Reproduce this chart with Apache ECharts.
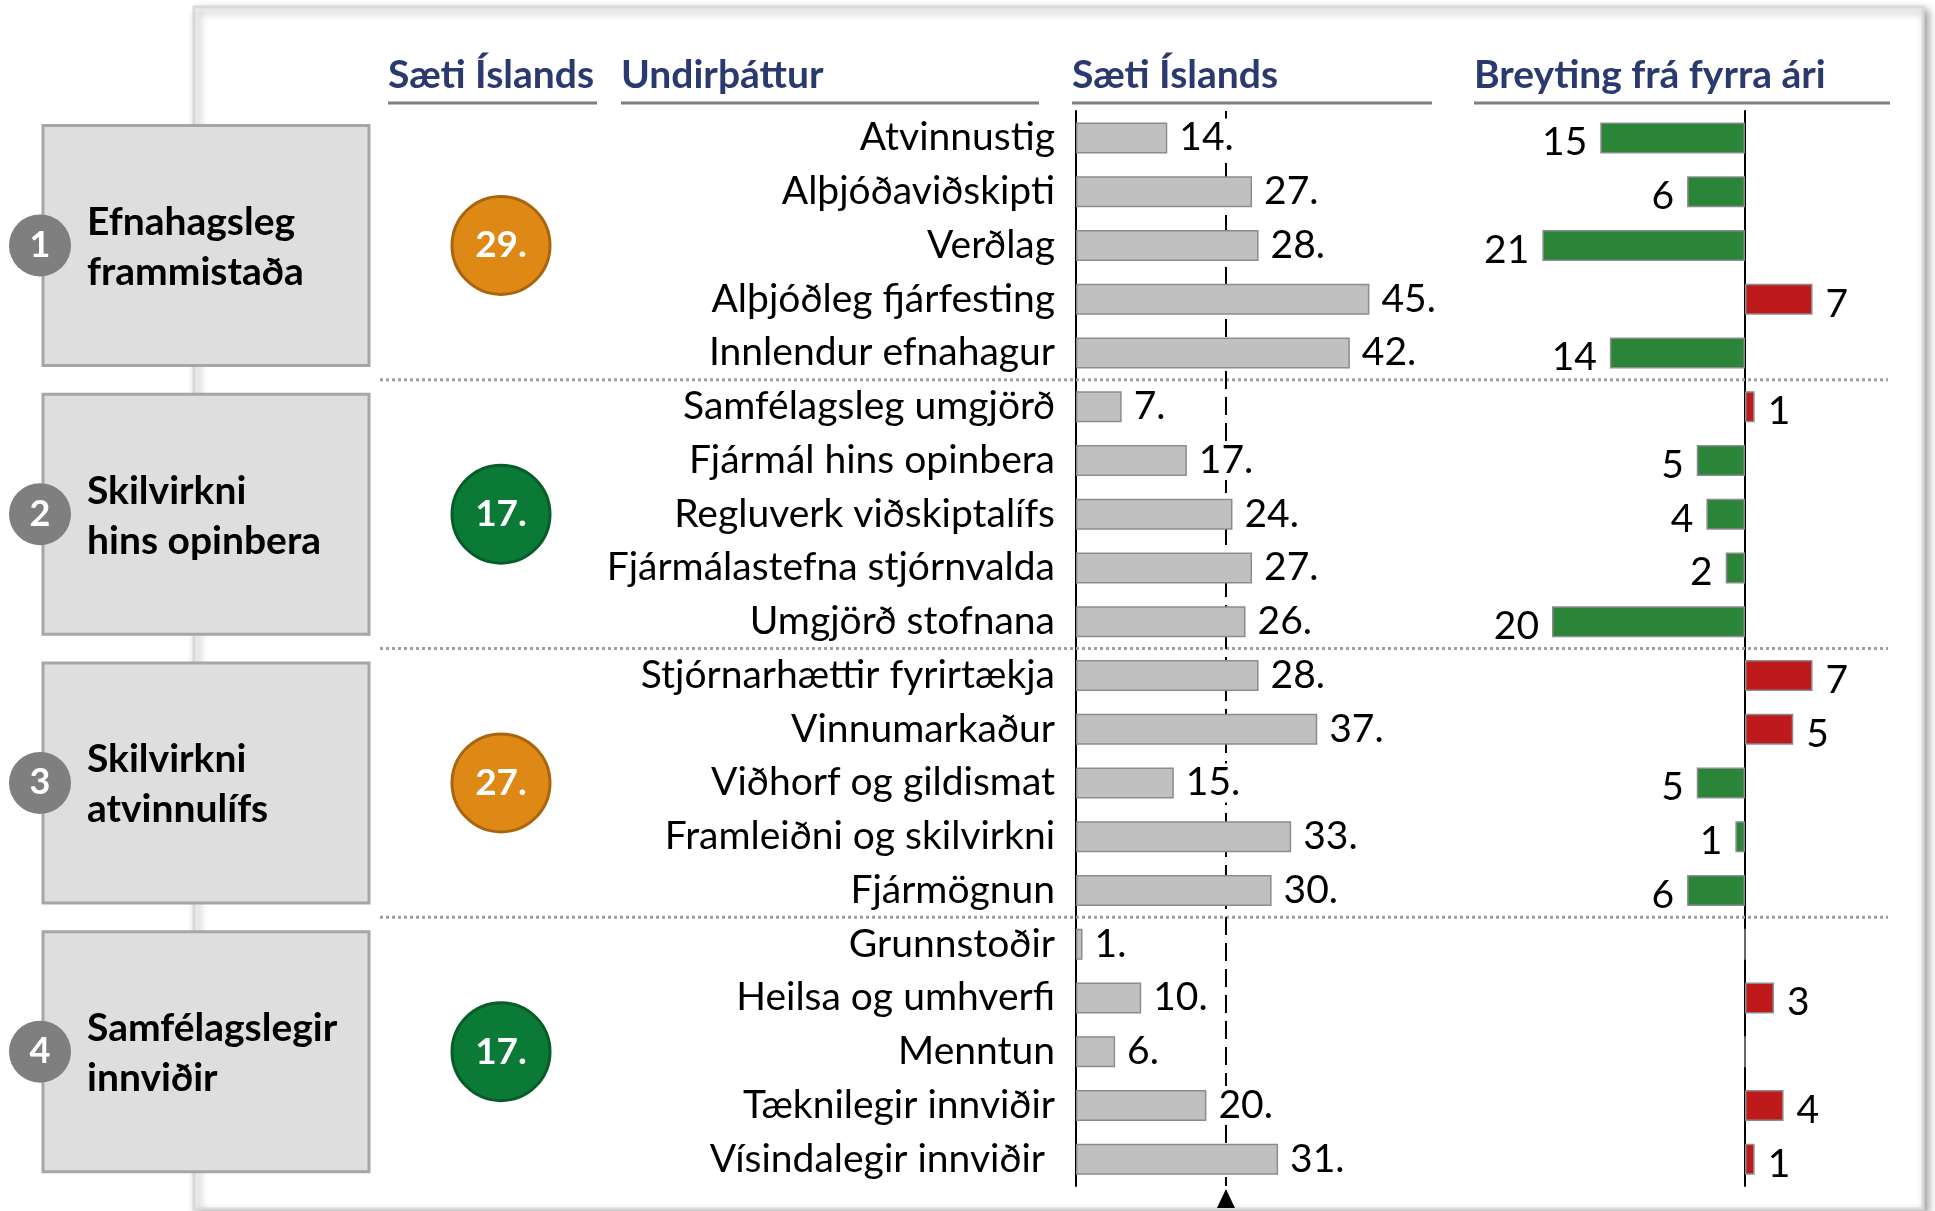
<!DOCTYPE html>
<html>
<head>
<meta charset="utf-8">
<script src="https://cdn.jsdelivr.net/npm/echarts@6.0.0/dist/echarts.min.js"></script>
<style>
  html, body { margin: 0; padding: 0; background: #fff; }
  #main { width: 1935px; height: 1211px; }
</style>
</head>
<body>
<div id="main"></div>
<script>
// undirþættir (röð frá toppi)
const subFactors = [
  'Atvinnustig', 'Alþjóðaviðskipti', 'Verðlag', 'Alþjóðleg fjárfesting', 'Innlendur efnahagur',
  'Samfélagsleg umgjörð', 'Fjármál hins opinbera', 'Regluverk viðskiptalífs', 'Fjármálastefna stjórnvalda', 'Umgjörð stofnana',
  'Stjórnarhættir fyrirtækja', 'Vinnumarkaður', 'Viðhorf og gildismat', 'Framleiðni og skilvirkni', 'Fjármögnun',
  'Grunnstoðir', 'Heilsa og umhverfi', 'Menntun', 'Tæknilegir innviðir', 'Vísindalegir innviðir '
];
// sæti Íslands í hverjum undirþætti
const islandRank = [14, 27, 28, 45, 42, 7, 17, 24, 27, 26, 28, 37, 15, 33, 30, 1, 10, 6, 20, 31];
// breyting frá fyrra ári (neikvætt = bæting, grænt)
const rankChange = [-15, -6, -21, 7, -14, 1, -5, -4, -2, -20, 7, 5, -5, -1, -6, 0, 3, 0, 4, 1];

// meginþættir
const pillars = ['Efnahagsleg\nframmistaða', 'Skilvirkni\nhins opinbera', 'Skilvirkni\natvinnulífs', 'Samfélagslegir\ninnviðir'];
const pillarRank = [29, 17, 27, 17];
const pillarSize = [5, 5, 5, 5];
const medianRank = 23;

const headers = ['Sæti Íslands', 'Undirþáttur', 'Sæti Íslands', 'Breyting frá fyrra ári'];

const FONT = 'Lato, "Open Sans", sans-serif';
const NAVY = '#2B3A6E';
const GREEN = '#2A8538';
const RED = '#BE1A1B';

const chart = echarts.init(document.getElementById('main'));

const option = {
  backgroundColor: '#fff',
  animation: false,
  textStyle: { fontFamily: FONT },
  grid: [
    { left: 1076, width: 326, top: 111, height: 1075, outerBoundsMode: 'none' },
    { left: 1503.75, width: 386, top: 111, height: 1075, outerBoundsMode: 'none' },
    { left: 451, width: 100, top: 111, height: 1075, outerBoundsMode: 'none' }
  ],
  xAxis: [
    { gridIndex: 0, type: 'value', min: 0, max: 50, show: false, splitLine: { show: false } },
    { gridIndex: 1, type: 'value', min: -25, max: 15, show: false, splitLine: { show: false } },
    { gridIndex: 2, type: 'value', min: 0, max: 1, show: false, splitLine: { show: false } }
  ],
  yAxis: [
    {
      gridIndex: 0, type: 'category', data: subFactors, inverse: true,
      axisLine: { lineStyle: { color: '#000', width: 2 } },
      axisTick: { show: false },
      axisLabel: { fontSize: 39, color: '#000', margin: 21, fontFamily: FONT }
    },
    {
      gridIndex: 1, type: 'category', data: subFactors, inverse: true,
      axisLine: { onZero: true, lineStyle: { color: '#000', width: 2 } },
      axisTick: { show: false },
      axisLabel: { show: false }
    },
    {
      gridIndex: 2, type: 'category', data: pillars, inverse: true, show: false
    }
  ],
  series: [
    {
      type: 'bar', xAxisIndex: 0, yAxisIndex: 0,
      data: islandRank,
      barWidth: 31,
      itemStyle: { color: '#C0C0C0', borderColor: '#8C8C8C', borderWidth: 1.5 },
      label: {
        show: true, position: 'right', distance: 10,
        formatter: '{c}.', fontSize: 39, color: '#000', fontFamily: FONT,
        backgroundColor: '#fff', padding: [0, 2]
      },
      markLine: {
        silent: true, symbol: 'none', z: 2,
        label: { show: false },
        lineStyle: { color: '#000', width: 2, type: [18, 8] },
        data: [{ xAxis: medianRank }]
      },
      z: 3
    },
    {
      type: 'bar', xAxisIndex: 1, yAxisIndex: 1,
      barWidth: 31,
      data: rankChange.map(v => ({
        value: v,
        itemStyle: { color: v < 0 ? GREEN : (v > 0 ? RED : '#888') },
        label: {
          show: v !== 0,
          position: v < 0 ? 'left' : 'right'
        }
      })),
      itemStyle: { borderColor: '#8C8C8C', borderWidth: 1.5 },
      label: {
        distance: 13, offset: [0, 5],
        formatter: p => Math.abs(p.value),
        fontSize: 39, color: '#000', fontFamily: FONT
      },
      z: 3
    },
    {
      type: 'scatter', xAxisIndex: 2, yAxisIndex: 2,
      symbolSize: 98,
      data: pillarRank.map((r, i) => ({
        value: [0.5, i],
        rank: r,
        itemStyle: {
          color: r > medianRank ? '#DE8816' : '#0B7A36',
          borderColor: r > medianRank ? '#A9650E' : '#075C28'
        }
      })),
      itemStyle: { borderWidth: 3, opacity: 1 },
      label: {
        show: true, position: 'inside',
        formatter: p => p.data.rank + '.',
        color: '#fff', fontSize: 37, fontWeight: 'bold', fontFamily: FONT
      },
      z: 3
    }
  ]
};

chart.setOption(option);

// skreytingar reiknaðar út frá ásum
const rowY = i => chart.convertToPixel({ yAxisIndex: 0 }, i);
const pillarY = i => chart.convertToPixel({ yAxisIndex: 2 }, i);
const refX = chart.convertToPixel({ xAxisIndex: 0 }, medianRank);
const rowStep = rowY(1) - rowY(0);
const bottomY = rowY(subFactors.length - 1) + rowStep / 2;

const g = [];
g.push({
  type: 'rect', z: -10,
  shape: { x: 194, y: 7, width: 1729, height: 1202 },
  style: {
    fill: '#fff', stroke: '#D9D9D9', lineWidth: 3,
    shadowBlur: 8, shadowColor: 'rgba(0,0,0,0.35)', shadowOffsetX: 4, shadowOffsetY: 4
  }
});

// punktalínur milli meginþátta
let acc = 0;
pillarSize.slice(0, -1).forEach(n => {
  acc += n;
  const y = (rowY(acc - 1) + rowY(acc)) / 2;
  g.push({
    type: 'line', z: 1,
    shape: { x1: 380, y1: y, x2: 1888, y2: y },
    style: { stroke: '#A0A0A0', lineWidth: 3, lineDash: [3, 3] }
  });
});

// fyrirsagnir
const headX = [388, 621, 1072, 1474];
const lineEnd = [597, 1039, 1432, 1890];
headers.forEach((h, i) => {
  g.push({
    type: 'text', z: 5,
    style: {
      text: h, x: headX[i], y: 75, fill: NAVY,
      font: 'bold 39px ' + FONT, align: 'left', verticalAlign: 'middle'
    }
  });
  g.push({
    type: 'line', z: 5,
    shape: { x1: headX[i], y1: 103, x2: lineEnd[i], y2: 103 },
    style: { stroke: '#7F7F7F', lineWidth: 3 }
  });
});

// kassar meginþátta
pillars.forEach((p, i) => {
  const cy = pillarY(i);
  g.push({
    type: 'rect', z: 5,
    shape: { x: 43, y: cy - 120, width: 326, height: 240 },
    style: { fill: '#DEDEDE', stroke: '#A6A6A6', lineWidth: 3 }
  });
  g.push({
    type: 'circle', z: 6,
    shape: { cx: 40, cy: cy, r: 31 },
    style: { fill: '#7F7F7F' }
  });
  g.push({
    type: 'text', z: 7,
    style: {
      text: String(i + 1), x: 40, y: cy, fill: '#fff',
      font: 'bold 36px ' + FONT, align: 'center', verticalAlign: 'middle'
    }
  });
  g.push({
    type: 'text', z: 7,
    style: {
      text: p, x: 87, y: cy + 2, fill: '#000', lineHeight: 50,
      font: 'bold 39px ' + FONT, align: 'left', verticalAlign: 'middle'
    }
  });
});

// ör undir miðgildislínu
g.push({
  type: 'polygon', z: 5,
  shape: { points: [[refX, bottomY + 3], [refX - 9, bottomY + 22], [refX + 9, bottomY + 22]] },
  style: { fill: '#000' }
});

chart.setOption({ graphic: g });
</script>
</body>
</html>
